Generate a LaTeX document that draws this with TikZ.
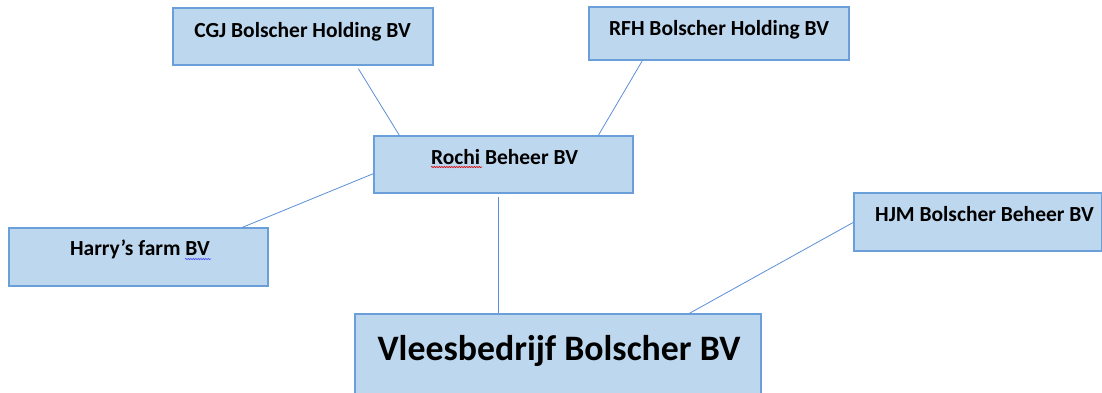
\documentclass[tikz,border=0pt]{standalone}
\usepackage{fontspec}
\setmainfont{Carlito}
\usetikzlibrary{calc,decorations.pathmorphing}
\definecolor{boxfill}{HTML}{BDD7EE}
\definecolor{boxedge}{HTML}{6A9FDA}
\definecolor{linkcol}{HTML}{5B8FD6}
\tikzset{
  box/.style={draw=boxedge, line width=1.3pt, fill=boxfill, inner sep=0pt},
  txt/.style={anchor=base, inner sep=0pt, font=\bfseries\fontsize{21.5}{25}\selectfont},
  bigtxt/.style={anchor=base, inner sep=0pt, font=\bfseries\fontsize{35.8}{42}\selectfont},
  link/.style={draw=linkcol, line width=0.8pt},
  squig/.style={line width=0.6pt, decorate, decoration={snake, amplitude=0.6pt, segment length=2.5pt}}
}
\begin{document}
\begin{tikzpicture}[x=1pt,y=-1pt]
\useasboundingbox (0,0) rectangle (1102,392);
\clip (0,0) rectangle (1102,392);
% boxes
\node[box, minimum width=260pt, minimum height=57pt] (cgj) at (303,36.5) {};
\node[box, minimum width=260pt, minimum height=53pt] (rfh) at (719,33.5) {};
\node[box, minimum width=259pt, minimum height=57pt] (rochi) at (503.5,164.5) {};
\node[box, minimum width=259pt, minimum height=58pt] (harry) at (138.5,257) {};
\node[box, minimum width=248pt, minimum height=58pt] (hjm) at (978,222) {};
\node[box, minimum width=406pt, minimum height=100pt] (vlees) at (558,364) {};
% texts
\node[txt] (tcgj) at (302.5,37) {CGJ Bolscher Holding BV};
\node[txt] (trfh) at (719,35) {RFH Bolscher Holding BV};
\node[txt] (trochi) at (504.5,164) {Rochi Beheer BV};
\node[txt] (tharry) at (140,255) {Harry’s farm BV};
\node[txt] (thjm) at (984.5,221) {HJM Bolscher Beheer BV};
\node[bigtxt] (tvlees) at (559,360) {Vleesbedrijf Bolscher BV};
% spell-check marks
\draw[squig, red!85!black] (431,167) -- (482,167);
\draw[squig, blue!70!white] (185,259) -- (211,259);
% connectors
\draw[link] ([xshift=186pt,yshift=-3pt]cgj.south west) -- ([xshift=26pt]rochi.north west);
\draw[link] ([xshift=54pt]rfh.south west) -- ([xshift=225pt]rochi.north west);
\draw[link] ([yshift=20pt]rochi.south west) -- ([xshift=234pt]harry.north west);
\draw[link] ([xshift=125pt,yshift=-3pt]rochi.south west) -- ([xshift=144pt]vlees.north west);
\draw[link] ([yshift=-30pt]hjm.north west) -- ([xshift=335pt]vlees.north west);
\end{tikzpicture}
\end{document}
